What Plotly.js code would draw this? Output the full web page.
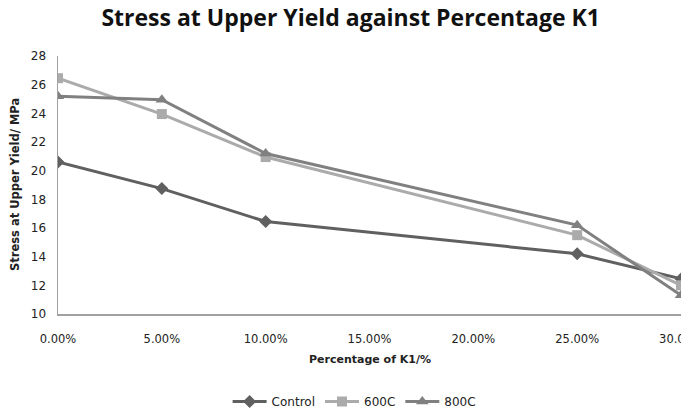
<!DOCTYPE html>
<html>
<head>
<meta charset="utf-8">
<script src="https://cdn.plot.ly/plotly-3.0.1.min.js"></script>
<style>html,body{margin:0;padding:0;background:#fff;}#chart{width:681px;height:414px;}</style>
</head>
<body>
<div id="chart"></div>
<script>
const percentK1 = [0.00, 0.05, 0.10, 0.25, 0.30];
const controlValues = [20.6, 18.75, 16.45, 14.2, 12.45];
const c600Values = [26.45, 23.95, 20.95, 15.5, 12.0];
const c800Values = [25.2, 24.95, 21.2, 16.2, 11.3];
const seriesNames = ["Control", "600C", "800C"];
const xTickVals = [0, 0.05, 0.10, 0.15, 0.20, 0.25, 0.30];

const traces = [
  {x: percentK1, y: controlValues, name: seriesNames[0], mode: "lines+markers",
   line: {color: "#606060", width: 3}, marker: {symbol: "diamond", size: 10, color: "#606060"}},
  {x: percentK1, y: c600Values, name: seriesNames[1], mode: "lines+markers",
   line: {color: "#ababab", width: 3}, marker: {symbol: "square", size: 10, color: "#ababab"}},
  {x: percentK1, y: c800Values, name: seriesNames[2], mode: "lines+markers",
   line: {color: "#808080", width: 3}, marker: {symbol: "triangle-up", size: 11, color: "#808080"}}
];

const layout = {
  width: 681, height: 414,
  margin: {l: 58, r: 0, t: 56, b: 100, autoexpand: false},
  paper_bgcolor: "#fff", plot_bgcolor: "#fff",
  showlegend: true,
  legend: {orientation: "h", x: 0.52, xanchor: "center", xref: "container", y: 0.03, yref: "container", yanchor: "middle",
           itemwidth: 34, font: {family: "DejaVu Sans", size: 12, color: "#222"}},
  title: {text: "<b>Stress at Upper Yield against Percentage K1</b>", x: 0.515, xref: "container", xanchor: "center",
          y: 0.957, yref: "container", yanchor: "middle", font: {family: "Open Sans", size: 23, color: "#111"}},
  xaxis: {range: [0, 0.30], tickvals: xTickVals, tickformat: ".2%", ticklabeloverflow: "allow",
          showgrid: false, zeroline: false, showline: true, linecolor: "#a0a0a0", linewidth: 1.5,
          ticks: "", ticklabelstandoff: 14, tickfont: {family: "DejaVu Sans", size: 11.5, color: "#222"}, automargin: false},
  yaxis: {range: [10, 28], dtick: 2, showgrid: false, zeroline: false, showline: true,
          linecolor: "#a0a0a0", linewidth: 1.5, ticks: "", ticklabelstandoff: 8,
          tickfont: {family: "DejaVu Sans", size: 12, color: "#222"}, automargin: false},
  annotations: [
    {text: "<b>Percentage of K1/%</b>", xref: "paper", yref: "paper", x: 0.5, y: -0.175, xanchor: "center", yanchor: "middle",
     showarrow: false, font: {family: "DejaVu Sans", size: 11, color: "#222"}},
    {text: "<b>Stress at Upper Yield/ MPa</b>", xref: "paper", yref: "paper", x: -0.069, y: 0.5, xanchor: "center", yanchor: "middle",
     textangle: -90, showarrow: false, font: {family: "DejaVu Sans", size: 11.5, color: "#222"}}
  ]
};
Plotly.newPlot("chart", traces, layout, {staticPlot: true, displayModeBar: false});
</script>
</body>
</html>
